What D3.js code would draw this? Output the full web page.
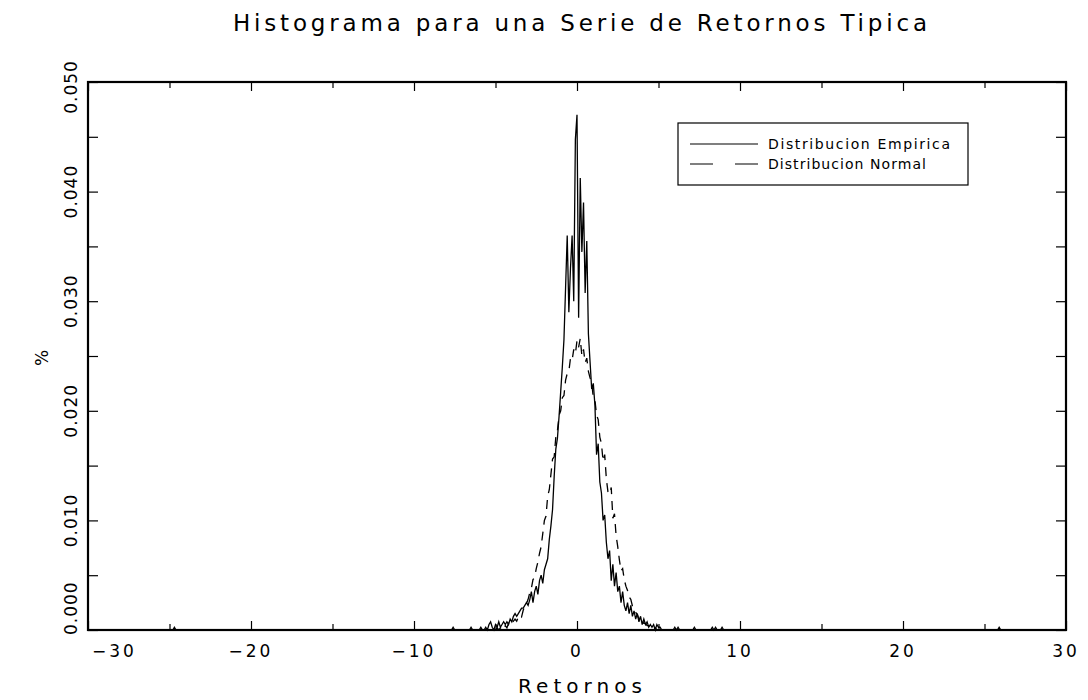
<!DOCTYPE html>
<html>
<head>
<meta charset="utf-8">
<script src="https://cdn.jsdelivr.net/npm/d3@7"></script>
<style>
  html, body { margin: 0; padding: 0; background: #fff; }
  svg { display: block; }
  text { font-family: "DejaVu Sans", sans-serif; fill: #000; }
</style>
</head>
<body>
<svg id="chart" width="1088" height="700"></svg>
<script>
// ---------- data ----------
const title = "Histograma para una Serie de Retornos Tipica";
const xLabel = "Retornos";
const yLabel = "%";
const seriesNames = ["Distribucion Empirica", "Distribucion Normal"];

const xTicks = [-30, -20, -10, 0, 10, 20, 30];
const xTickLabels = ["\u221230", "\u221220", "\u221210", "0", "10", "20", "30"];
const xMinorTicks = [-25, -15, -5, 5, 15, 25];
const yTicks = [0, 0.01, 0.02, 0.03, 0.04, 0.05];
const yTickLabels = ["0.000", "0.010", "0.020", "0.030", "0.040", "0.050"];
const yMinorTicks = [0.005, 0.015, 0.025, 0.035, 0.045];

// empirical histogram (bin centres, relative frequency)
const empX = [-30, -24.8, -24.7, -24.6, -7.7, -7.6, -7.5, -6.6, -6.5, -6.4,
  -6.0, -5.9, -5.8, -5.7, -5.6, -5.5, -5.4, -5.3, -5.2, -5.1,
  -5.0, -4.9, -4.8, -4.7, -4.6, -4.5, -4.4, -4.3, -4.2, -4.1,
  -4.0, -3.9, -3.8, -3.7, -3.6, -3.5, -3.4, -3.3, -3.2, -3.1,
  -3.0, -2.9, -2.8, -2.7, -2.6, -2.5, -2.4, -2.3, -2.2, -2.1,
  -2.0, -1.9, -1.8, -1.7, -1.6, -1.5, -1.4, -1.3, -1.2, -1.1,
  -1.0, -0.9, -0.8, -0.7, -0.6, -0.5, -0.4, -0.3, -0.2, -0.1,
  0.0, 0.1, 0.2, 0.3, 0.4, 0.5, 0.6, 0.7, 0.8, 0.9,
  1.0, 1.1, 1.2, 1.3, 1.4, 1.5, 1.6, 1.7, 1.8, 1.9,
  2.0, 2.1, 2.2, 2.3, 2.4, 2.5, 2.6, 2.7, 2.8, 2.9,
  3.0, 3.1, 3.2, 3.3, 3.4, 3.5, 3.6, 3.7, 3.8, 3.9,
  4.0, 4.1, 4.2, 4.3, 4.4, 4.5, 4.6, 4.7, 4.8, 4.9,
  5.0, 5.1, 5.2,
  5.9, 6.0, 6.1, 6.2, 6.3, 7.1, 7.2, 7.3, 8.2, 8.3, 8.4, 8.5, 8.6, 8.8, 8.9, 9.0,
  25.8, 25.9, 26.0, 30];
const empY = [0, 0, 0.00025, 0, 0, 0.00025, 0, 0, 0.00025, 0,
  0, 0.00025, 0, 0, 0.00025, 0, 0.0005, 0.00075, 0.00025, 0,
  0.0005, 0.00025, 0.00075, 0.00025, 0.0005, 0.00075, 0.0005, 0.00075, 0.0005, 0.001,
  0.00075, 0.00125, 0.0015, 0.00125, 0.0015, 0.00175, 0.002, 0.002, 0.00225, 0.0025,
  0.00225, 0.00275, 0.0035, 0.0025, 0.0035, 0.004, 0.00325, 0.0045, 0.005, 0.00425,
  0.0055, 0.006, 0.0065, 0.00825, 0.0095, 0.011, 0.014, 0.0165, 0.0175, 0.0195,
  0.02175, 0.024, 0.0265, 0.03125, 0.036, 0.029, 0.033, 0.036, 0.030, 0.04475,
  0.047, 0.0285, 0.04125, 0.0345, 0.039, 0.03075, 0.0355, 0.027, 0.0245, 0.022,
  0.0225, 0.0205, 0.016, 0.017, 0.0135, 0.0125, 0.010, 0.0105, 0.008, 0.0065,
  0.00725, 0.0045, 0.006, 0.004, 0.00525, 0.0035, 0.004, 0.0025, 0.0035, 0.00225,
  0.00175, 0.0025, 0.0015, 0.00225, 0.00125, 0.00175, 0.001, 0.0015, 0.00075, 0.00125,
  0.0005, 0.001, 0.0005, 0.00075, 0.00025, 0.0005, 0.00025, 0.0005, 0, 0.0005,
  0.00025, 0.00025, 0,
  0, 0.00025, 0, 0.00025, 0, 0, 0.00025, 0, 0, 0.00025, 0, 0.00025, 0, 0, 0.00025, 0,
  0, 0.00025, 0, 0];

// normal reference distribution
const normX = [-5.0, -4.9, -4.8, -4.7, -4.6, -4.5, -4.4, -4.3, -4.2, -4.1,
  -4.0, -3.9, -3.8, -3.7, -3.6, -3.5, -3.4, -3.3, -3.2, -3.1,
  -3.0, -2.9, -2.8, -2.7, -2.6, -2.5, -2.4, -2.3, -2.2, -2.1,
  -2.0, -1.9, -1.8, -1.7, -1.6, -1.5, -1.4, -1.3, -1.2, -1.1,
  -1.0, -0.9, -0.8, -0.7, -0.6, -0.5, -0.4, -0.3, -0.2, -0.1,
  0.0, 0.1, 0.2, 0.3, 0.4, 0.5, 0.6, 0.7, 0.8, 0.9,
  1.0, 1.1, 1.2, 1.3, 1.4, 1.5, 1.6, 1.7, 1.8, 1.9,
  2.0, 2.1, 2.2, 2.3, 2.4, 2.5, 2.6, 2.7, 2.8, 2.9,
  3.0, 3.1, 3.2, 3.3, 3.4, 3.5, 3.6, 3.7, 3.8, 3.9,
  4.0, 4.1, 4.2, 4.3, 4.4, 4.5, 4.6, 4.7, 4.8, 4.9, 5.0];
const normY = [0, 0.0002, 0, 0.0002, 0.0002, 0, 0.0004, 0.0002, 0.0006, 0.0004,
  0.0006, 0.0008, 0.001, 0.0008, 0.0012, 0.0014, 0.0012, 0.0018, 0.0022, 0.0024,
  0.0028, 0.0034, 0.0038, 0.0046, 0.0048, 0.0056, 0.0062, 0.007, 0.0076, 0.0088,
  0.010, 0.0104, 0.0122, 0.0128, 0.0142, 0.0156, 0.0158, 0.0176, 0.0182, 0.0196,
  0.020, 0.0212, 0.0214, 0.0228, 0.0234, 0.0236, 0.0248, 0.0246, 0.0256, 0.0252,
  0.0264, 0.0258, 0.0266, 0.025, 0.0256, 0.0244, 0.0248, 0.0236, 0.023, 0.0226,
  0.0212, 0.021, 0.0196, 0.0192, 0.0176, 0.017, 0.0154, 0.016, 0.0138, 0.0126,
  0.0124, 0.013, 0.0102, 0.0106, 0.0086, 0.0076, 0.0064, 0.0054, 0.0056, 0.0046,
  0.004, 0.0036, 0.003, 0.0028, 0.0022, 0.002, 0.0016, 0.0014, 0.001, 0.0012,
  0.0008, 0.0006, 0.0006, 0.0004, 0.0004, 0.0002, 0.0002, 0, 0.0002, 0, 0];

// ---------- drawing ----------
const svg = d3.select("#chart");
const plot = { left: 88, right: 1066, top: 82, bottom: 630 };

const x = d3.scaleLinear().domain([-30, 30]).range([plot.left, plot.right]);
const y = d3.scaleLinear().domain([0, 0.05]).range([plot.bottom, plot.top]);

const line = d3.line().x(d => x(d[0])).y(d => y(d[1]));
const empData = empX.map((v, i) => [v, empY[i]]);
const normData = normX.map((v, i) => [v, normY[i]]);

// normal (dashed)
svg.append("path").datum(normData)
  .attr("d", line).attr("fill", "none").attr("stroke", "#000")
  .attr("stroke-width", 1.3).attr("stroke-dasharray", "9,7");

// empirical (solid)
svg.append("path").datum(empData)
  .attr("d", line).attr("fill", "none").attr("stroke", "#000")
  .attr("stroke-width", 1.3).attr("stroke-linejoin", "miter");

// axes with inward ticks
const gx = svg.append("g").attr("transform", `translate(0,${plot.bottom})`)
  .call(d3.axisTop(x).tickValues(xTicks).tickSize(9).tickFormat(""));
const gxm = svg.append("g").attr("transform", `translate(0,${plot.bottom})`)
  .call(d3.axisTop(x).tickValues(xMinorTicks).tickSize(6).tickFormat(""));
const gxt = svg.append("g").attr("transform", `translate(0,${plot.top})`)
  .call(d3.axisBottom(x).tickValues(xTicks).tickSize(9).tickFormat(""));
const gxtm = svg.append("g").attr("transform", `translate(0,${plot.top})`)
  .call(d3.axisBottom(x).tickValues(xMinorTicks).tickSize(6).tickFormat(""));
const gy = svg.append("g").attr("transform", `translate(${plot.left},0)`)
  .call(d3.axisRight(y).tickValues(yTicks.concat(yMinorTicks)).tickSize(10).tickFormat(""));
const gyr = svg.append("g").attr("transform", `translate(${plot.right},0)`)
  .call(d3.axisLeft(y).tickValues(yTicks.concat(yMinorTicks)).tickSize(10).tickFormat(""));
[gx, gxm, gxt, gxtm, gy, gyr].forEach(g => {
  g.select(".domain").remove();
  g.selectAll(".tick line").attr("stroke", "#000").attr("stroke-width", 1.2);
});

// frame
svg.append("rect")
  .attr("x", plot.left).attr("y", plot.top)
  .attr("width", plot.right - plot.left).attr("height", plot.bottom - plot.top)
  .attr("fill", "none").attr("stroke", "#000").attr("stroke-width", 2.2);

// x tick labels
svg.append("g").selectAll("text").data(xTicks).join("text")
  .attr("x", (d, i) => i === 0 ? x(d) + 4 : x(d))
  .attr("y", 657)
  .attr("text-anchor", (d, i) => i === 0 ? "start" : "middle")
  .attr("font-size", 17).attr("letter-spacing", 3)
  .text((d, i) => xTickLabels[i]);

// y tick labels (rotated)
svg.append("g").selectAll("text").data(yTicks).join("text")
  .attr("transform", (d, i) => {
    const yy = i === 0 ? plot.bottom + 5 : (i === yTicks.length - 1 ? y(d) + 5 : y(d));
    return `translate(77,${yy}) rotate(-90)`;
  })
  .attr("text-anchor", (d, i) => i === 0 ? "start" : "middle")
  .attr("font-size", 17).attr("letter-spacing", 1)
  .text((d, i) => yTickLabels[i]);

// title
svg.append("text").attr("x", 580).attr("y", 31)
  .attr("text-anchor", "middle").attr("font-size", 23)
  .attr("textLength", 694).attr("lengthAdjust", "spacing")
  .text(title);

// axis titles
svg.append("text").attr("x", 580).attr("y", 693)
  .attr("text-anchor", "middle").attr("font-size", 20)
  .attr("textLength", 124).attr("lengthAdjust", "spacing")
  .text(xLabel);
svg.append("text").attr("transform", "translate(48,358) rotate(-90)")
  .attr("text-anchor", "middle").attr("font-size", 17)
  .text(yLabel);

// legend
const lg = svg.append("g");
lg.append("rect").attr("x", 678).attr("y", 123).attr("width", 290).attr("height", 62)
  .attr("fill", "#fff").attr("stroke", "#000").attr("stroke-width", 1.2);
lg.append("line").attr("x1", 690).attr("x2", 758).attr("y1", 144).attr("y2", 144)
  .attr("stroke", "#000").attr("stroke-width", 1.2);
lg.append("line").attr("x1", 690).attr("x2", 758).attr("y1", 164).attr("y2", 164)
  .attr("stroke", "#000").attr("stroke-width", 1.2).attr("stroke-dasharray", "23,22");
lg.append("text").attr("x", 768).attr("y", 149).attr("font-size", 14)
  .attr("textLength", 182).attr("lengthAdjust", "spacing").text(seriesNames[0]);
lg.append("text").attr("x", 768).attr("y", 169).attr("font-size", 14)
  .attr("textLength", 158).attr("lengthAdjust", "spacing").text(seriesNames[1]);
</script>
</body>
</html>
